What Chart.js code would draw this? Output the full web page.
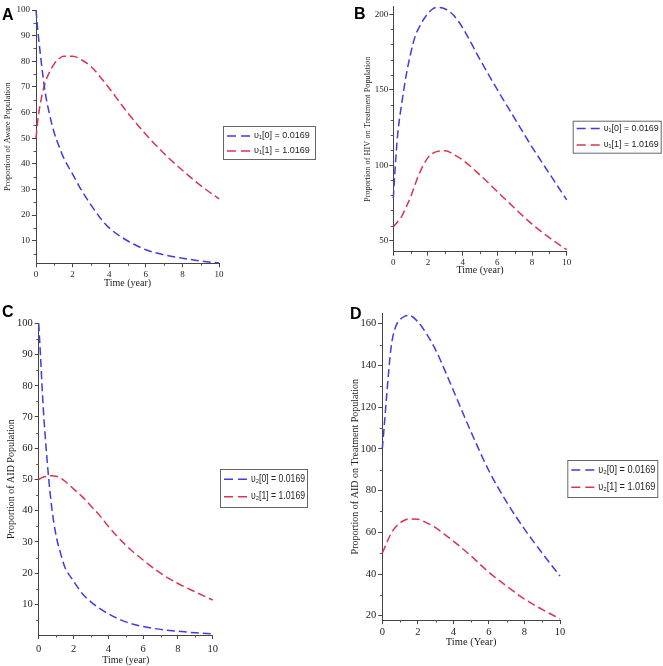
<!DOCTYPE html>
<html><head><meta charset="utf-8">
<script src="https://cdn.jsdelivr.net/npm/chart.js@4.4.1/dist/chart.umd.min.js"></script>
<style>
html,body{margin:0;padding:0;background:#fff;}
#wrap{position:relative;width:663px;height:666px;overflow:hidden;background:#fff;}
canvas{position:absolute;}
.lbl{position:absolute;font:bold 16px "Liberation Sans",Arial,sans-serif;color:#000;line-height:16px;}
</style></head><body>
<div id="wrap">
<canvas id="cA" width="331" height="305" style="left:0;top:0"></canvas>
<canvas id="cB" width="332" height="305" style="left:331px;top:0"></canvas>
<canvas id="cC" width="331" height="361" style="left:0;top:305px"></canvas>
<canvas id="cD" width="332" height="361" style="left:331px;top:305px"></canvas>
<div class="lbl" style="left:2px;top:7px">A</div>
<div class="lbl" style="left:354px;top:6px">B</div>
<div class="lbl" style="left:2px;top:304px">C</div>
<div class="lbl" style="left:350px;top:306px">D</div>
</div>
<script>
// ---- data ----
const times = [0,0.1,0.25,0.5,0.75,1,1.25,1.5,2,2.5,3,3.5,4,5,6,7,8,9,10];
const awareV0 = [100,92,82,68,59,52,47,42.5,36,29.5,24,19,15,10,6.5,4.5,3.2,2.1,1.3];
const awareV1 = [50,57,64,71.5,76,79,81,82,82,80.5,78,74,69.5,60,51.5,44,37.5,31.5,26.3];
const hivTreatV0 = [78,97,120,142,160,174,185,191.5,200.5,204.5,203.5,199,191,170,150,131,112,94.5,77];
const hivTreatV1 = [59,60.5,62.5,66.5,72.5,79,87,94.5,105,109,109.5,107,103.5,93.5,82.5,71.5,61,52,44];
const aidV0 = [100,90,74,55,41,32,26.5,22,17.5,13.5,10.8,8.7,7,4.4,2.9,2,1.4,0.9,0.6];
const aidV1 = [50,50.3,50.7,51,51.2,51,50.5,49.5,47,44.5,41.5,38.5,35,29,24.2,20,16.7,14,11.4];
const aidTreatV0 = [100,110,126,149,158.5,162,163.5,164,161,155,147.5,138,128,108,89.5,74.5,61.5,50,39];
const aidTreatV1 = [50,52,55,59.5,62.5,64.5,65.8,66.4,66.3,64.5,62.2,59,55.8,48.6,40.8,34.2,28,23,18.5];

const labelsSub1 = ['\u03c5\u2081[0] = 0.0169', '\u03c5\u2081[1] = 1.0169'];
const labelsSub2 = ['\u03c5\u2082[0] = 0.0169', '\u03c5\u2082[1] = 1.0169'];

const xTicks = [0,2,4,6,8,10];
const xMinor = [1,3,5,7,9];
const yTicksA = [10,20,30,40,50,60,70,80,90,100];
const yMinorA = [5,15,25,35,45,55,65,75,85,95];
const yTicksB = [50,100,150,200];
const yMinorB = [60,70,80,90,110,120,130,140,160,170,180,190];
const yTicksC = [10,20,30,40,50,60,70,80,90,100];
const yMinorC = [5,15,25,35,45,55,65,75,85,95];
const yTicksD = [20,40,60,80,100,120,140,160];
const yMinorD = [30,50,70,90,110,130,150];

// ---- plugins ----
const minorTicks = {
  id:'minorTicks',
  afterDraw(chart, args, o){
    const {ctx} = chart; const x = chart.scales.x, y = chart.scales.y;
    ctx.save(); ctx.strokeStyle = '#555'; ctx.lineWidth = 1; ctx.beginPath();
    (o.x||[]).forEach(v=>{const p=Math.round(x.getPixelForValue(v))+0.5; ctx.moveTo(p, y.bottom); ctx.lineTo(p, y.bottom+2.5);});
    (o.y||[]).forEach(v=>{const p=Math.round(y.getPixelForValue(v))+0.5; ctx.moveTo(x.left-2.5, p); ctx.lineTo(x.left, p);});
    ctx.stroke(); ctx.restore();
  }
};
const boxLegend = {
  id:'boxLegend',
  afterDraw(chart, args, o){
    const ctx = chart.ctx; ctx.save();
    ctx.fillStyle = '#fff'; ctx.fillRect(o.x, o.y, o.w, o.h);
    ctx.strokeStyle = '#666'; ctx.lineWidth = 1; ctx.strokeRect(o.x+0.5, o.y+0.5, o.w-1, o.h-1);
    chart.data.datasets.forEach((ds,i)=>{
      const ry = o.rows[i];
      ctx.strokeStyle = ds.borderColor; ctx.lineWidth = ds.borderWidth; ctx.setLineDash([9,5]);
      ctx.beginPath(); ctx.moveTo(o.x+4, ry); ctx.lineTo(o.x+27, ry); ctx.stroke();
      ctx.setLineDash([]);
      ctx.fillStyle = '#222'; ctx.font = o.font; ctx.textBaseline = 'middle'; ctx.textAlign = 'left';
      ctx.fillText(ds.label, o.x+31, ry, o.w-34);
    });
    ctx.restore();
  }
};

const BLUE = '#3d3de0', RED = '#dc3450';
const SERIF = '"Liberation Serif","Times New Roman",serif';

function pts(arr){ return times.map((t,i)=>({x:t, y:arr[i]})); }

function makePanel(id, g){
  new Chart(document.getElementById(id), {
    type:'line',
    data:{datasets:[
      {label:g.labels[0], data:pts(g.s0), borderColor:BLUE, borderWidth:1.5, borderDash:[8,4], pointRadius:0, fill:false, cubicInterpolationMode:'monotone', clip:false},
      {label:g.labels[1], data:pts(g.s1), borderColor:RED, borderWidth:1.5, borderDash:[8,4], pointRadius:0, fill:false, cubicInterpolationMode:'monotone', clip:false}
    ]},
    options:{
      responsive:false, animation:false, events:[],
      layout:{padding:{left:0, right:g.padR, top:g.padT, bottom:g.padB}},
      plugins:{legend:{display:false}, tooltip:{enabled:false},
        minorTicks:{x:xMinor, y:g.yMinor},
        boxLegend:g.legend},
      scales:{
        x:{type:'linear', min:0, max:10,
          afterBuildTicks:s=>{s.ticks = xTicks.map(v=>({value:v}));},
          afterFit:s=>{s.height = g.xH;},
          ticks:{font:{family:SERIF,size:g.tickSize}, color:'#222', padding:g.xTickPad, maxRotation:0, autoSkip:false},
          grid:{display:true, drawOnChartArea:false, tickLength:4, color:'#444'},
          border:{display:true, color:'#444', width:1},
          title:{display:true, text:g.xTitle, font:{family:SERIF,size:g.xTitleSize}, color:'#222', padding:{top:0,bottom:g.xTitlePad}}
        },
        y:{type:'linear', min:g.yMin, max:g.yMax,
          afterBuildTicks:s=>{s.ticks = g.yTicks.map(v=>({value:v}));},
          afterFit:s=>{s.width = g.yW;},
          ticks:{font:{family:SERIF,size:g.tickSize}, color:'#222', padding:g.yTickPad, autoSkip:false},
          grid:{display:true, drawOnChartArea:false, tickLength:4, color:'#444'},
          border:{display:true, color:'#444', width:1},
          title:{display:true, text:g.yTitle, font:{family:SERIF,size:g.yTitleSize}, color:'#222', padding:{top:g.yTitlePad,bottom:0}}
        }
      }
    },
    plugins:[minorTicks, boxLegend]
  });
}

makePanel('cA', {s0:awareV0, s1:awareV1, labels:labelsSub1,
  yMin:1.2, yMax:100, yTicks:yTicksA, yMinor:yMinorA,
  padR:112, padT:10, padB:5.7, xH:36, yW:36,
  tickSize:9, xTickPad:1.5, yTickPad:2, xTitle:'Time (year)', xTitleSize:10, xTitlePad:10,
  yTitle:'Proportion of Aware Population', yTitleSize:8.5, yTitlePad:2.9,
  legend:{x:223, y:126, w:93, h:34, rows:[136,151], font:'9px "Liberation Sans",Arial,sans-serif'}});

makePanel('cB', {s0:hivTreatV0, s1:hivTreatV1, labels:labelsSub1,
  yMin:42.7, yMax:205, yTicks:yTicksB, yMinor:yMinorB,
  padR:96.3, padT:6.7, padB:13.3, xH:40, yW:62.3,
  tickSize:9, xTickPad:1.5, yTickPad:1, xTitle:'Time (year)', xTitleSize:10, xTitlePad:15.7,
  yTitle:'Proportion of HIV on Treatment Population', yTitleSize:8.3, yTitlePad:31.9,
  legend:{x:241.7, y:120.7, w:89, h:33, rows:[128.5,145], font:'9px "Liberation Sans",Arial,sans-serif'}});

makePanel('cC', {s0:aidV0, s1:aidV1, labels:labelsSub2,
  yMin:0.2, yMax:100, yTicks:yTicksC, yMinor:yMinorC,
  padR:118.3, padT:18.3, padB:0, xH:31, yW:38.7,
  tickSize:10.5, xTickPad:3.5, yTickPad:2, xTitle:'Time (year)', xTitleSize:10, xTitlePad:0,
  yTitle:'Proportion of AID Population', yTitleSize:10, yTitlePad:5,
  legend:{x:220, y:164, w:88, h:39, rows:[174.3,191.7], font:'10px "Liberation Sans",Arial,sans-serif'}});

makePanel('cD', {s0:aidTreatV0, s1:aidTreatV1, labels:labelsSub2,
  yMin:17.9, yMax:165, yTicks:yTicksD, yMinor:yMinorD,
  padR:103, padT:7.9, padB:10.9, xH:35, yW:51.3,
  tickSize:10.5, xTickPad:2.2, yTickPad:2, xTitle:'Time (Year)', xTitleSize:10.5, xTitlePad:6.2,
  yTitle:'Proportion of AID on Treatment Population', yTitleSize:10, yTitlePad:18,
  legend:{x:236.3, y:155, w:91, h:38, rows:[165,182.3], font:'10px "Liberation Sans",Arial,sans-serif'}});
</script>
</body></html>
